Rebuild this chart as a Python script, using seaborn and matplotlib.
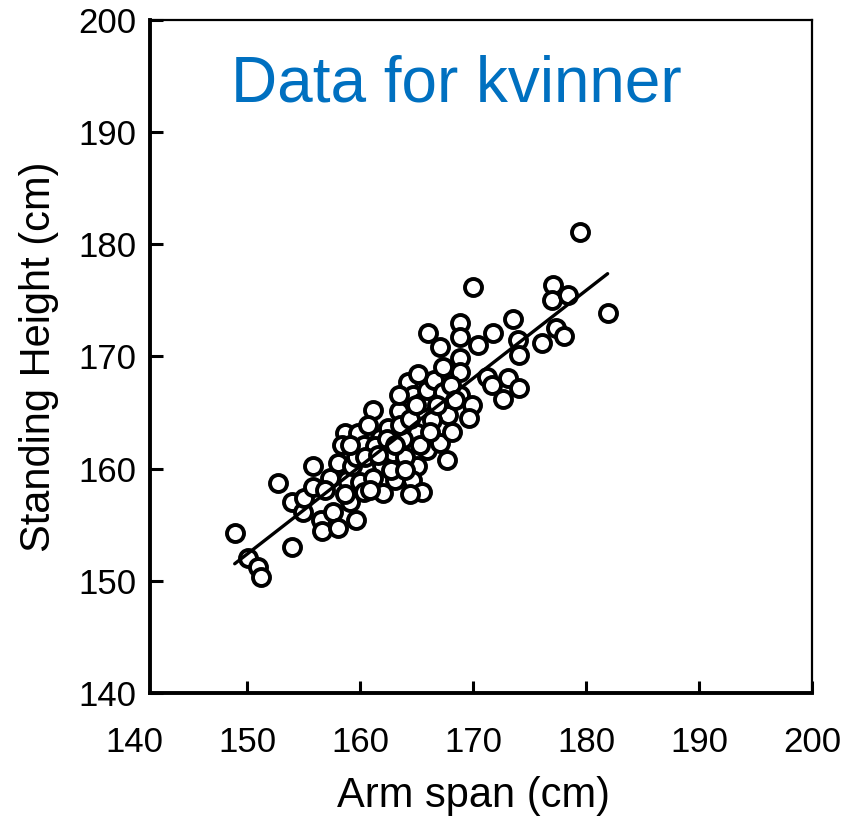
import matplotlib
matplotlib.use('Agg')
import matplotlib.pyplot as plt
import seaborn as sns
import pandas as pd

# Données (envergure / taille debout, en cm)
arm_span = [
    148.9, 150.1, 151.0, 151.2, 152.7, 154.0, 154.0, 154.9, 155.0, 155.8,
    155.8, 156.5, 156.6, 157.3, 157.6, 158.0, 158.0, 158.7, 158.8, 159.1,
    159.3, 159.6, 159.6, 159.8, 160.0, 160.3, 160.3, 161.1, 161.8, 161.9,
    162.9, 163.1, 163.4, 164.2, 164.7, 165.0, 165.0, 164.6, 165.5, 164.4,
    165.5, 165.9, 165.9, 166.5, 167.1, 167.1, 167.3, 167.3, 167.8, 166.0,
    168.8, 168.8, 168.8, 168.8, 168.8, 169.9, 171.2, 170.0, 171.8, 173.5,
    174.0, 174.1, 176.1, 177.3, 178.0, 177.1, 177.0, 178.4, 181.9, 179.5,
    171.7, 173.1, 174.1, 172.6, 160.7, 161.3, 162.5, 163.8, 164.0, 162.7,
    161.1, 162.0, 166.4, 166.8, 168.1, 167.7, 169.6, 168.0, 158.4, 156.9,
    163.4, 165.1, 170.4, 159.1, 160.4, 161.6, 162.4, 163.5, 164.4, 165.3,
    166.2, 164.9, 164.0, 160.9, 158.7, 168.4, 163.1,
]
height = [
    154.3, 152.0, 151.2, 150.3, 158.7, 153.0, 157.0, 156.1, 157.4, 160.2,
    158.4, 155.4, 154.4, 159.2, 156.1, 154.7, 160.5, 163.2, 159.0, 157.0,
    160.2, 161.0, 155.4, 163.2, 158.8, 157.9, 162.1, 165.2, 162.7, 160.3,
    161.4, 159.0, 165.1, 167.7, 166.6, 163.2, 160.2, 159.0, 157.9, 157.7,
    165.9, 167.0, 161.7, 167.9, 162.3, 170.8, 169.1, 166.8, 164.8, 172.1,
    173.0, 171.7, 169.9, 168.6, 166.6, 165.7, 168.2, 176.2, 172.1, 173.3,
    171.5, 170.1, 171.2, 172.5, 171.8, 176.4, 175.0, 175.5, 173.9, 181.1,
    167.5, 168.1, 167.2, 166.2, 163.9, 162.0, 163.6, 162.6, 161.0, 159.9,
    159.2, 157.8, 164.3, 165.7, 163.3, 160.8, 164.5, 167.5, 162.1, 158.1,
    166.6, 168.4, 171.0, 162.1, 161.0, 161.2, 162.6, 163.9, 164.4, 162.1,
    163.3, 165.7, 159.9, 158.1, 157.7, 166.1, 162.1,
]
x_ticks = [150, 160, 170, 180, 190, 200]
x_first_tick = [140]
y_ticks = [140, 150, 160, 170, 180, 190, 200]
title = "Data for kvinner"

df = pd.DataFrame({'arm_span': arm_span, 'height': height})

# Style des graduations fixé dans rcParams (traits intérieurs, noirs)
sns.set_theme(style='ticks', rc={
    'axes.axisbelow': False,
    'xtick.direction': 'in', 'ytick.direction': 'in',
    'xtick.major.size': 9, 'ytick.major.size': 9,
    'xtick.major.width': 2.2, 'ytick.major.width': 2.2,
    'xtick.color': 'black', 'ytick.color': 'black',
    'xtick.labelcolor': 'black', 'ytick.labelcolor': 'black',
    'xtick.top': False, 'ytick.right': False,
})
plt.rcParams['font.family'] = ['Liberation Sans', 'DejaVu Sans']

fig = plt.figure(figsize=(8.49, 8.22), dpi=100)
ax = fig.add_axes([0.158, 0.157, 0.7986, 0.8187])

# Nuage de points + droite de régression
sns.regplot(data=df, x='arm_span', y='height', ax=ax, ci=None, truncate=True,
            color='black',
            scatter_kws=dict(s=150, facecolors='white', edgecolors='black',
                             linewidths=2.8, alpha=1),
            line_kws=dict(color='black', lw=2.4))

ax.set_xlim(140, 200)
ax.set_ylim(140, 200)
ax.set_xticks(x_ticks)
ax.set_yticks(y_ticks)
# 140 : étiquette seule, sans trait (l'axe vertical est décalé)
ax.set_xticks(x_first_tick, minor=True)
ax.set_xticklabels([str(v) for v in x_first_tick], minor=True)

# L'axe vertical est légèrement décalé vers la droite dans l'original
ax.spines['left'].set_position(('data', 141.4))
ax.spines['bottom'].set_bounds(141.4, 200)
ax.spines['top'].set_bounds(141.4, 200)
for side in ['left', 'bottom']:
    ax.spines[side].set_linewidth(2.8)
    ax.spines[side].set_color('black')
for side in ['top', 'right']:
    ax.spines[side].set_linewidth(1.6)
    ax.spines[side].set_color('black')

ax.tick_params(axis='both', which='major', labelsize=25)
ax.tick_params(axis='x', which='minor', length=0, labelsize=25, pad=24)
ax.tick_params(axis='x', which='major', pad=24)
ax.tick_params(axis='y', pad=10)

ax.set_xlabel('Arm span (cm)', fontsize=30, labelpad=12, color='black')
ax.set_ylabel('Standing Height (cm)', fontsize=30, labelpad=14, color='black')

fig.text(0.538, 0.897, title, fontsize=46, color='#0070C0', ha='center', va='center')

# Forcer l'affichage des traits de graduation au premier plan
ax.xaxis.set_zorder(5)
ax.yaxis.set_zorder(5)
fig.canvas.draw()
for tk in ax.xaxis.get_major_ticks() + ax.yaxis.get_major_ticks():
    tk.tick1line.set_visible(True)
    tk.tick1line.set_markersize(9)
    tk.tick1line.set_markeredgewidth(2.2)
    tk.tick1line.set_color('black')
    tk.tick1line.set_zorder(5)

plt.savefig('out.png', dpi=100)
plt.close()
